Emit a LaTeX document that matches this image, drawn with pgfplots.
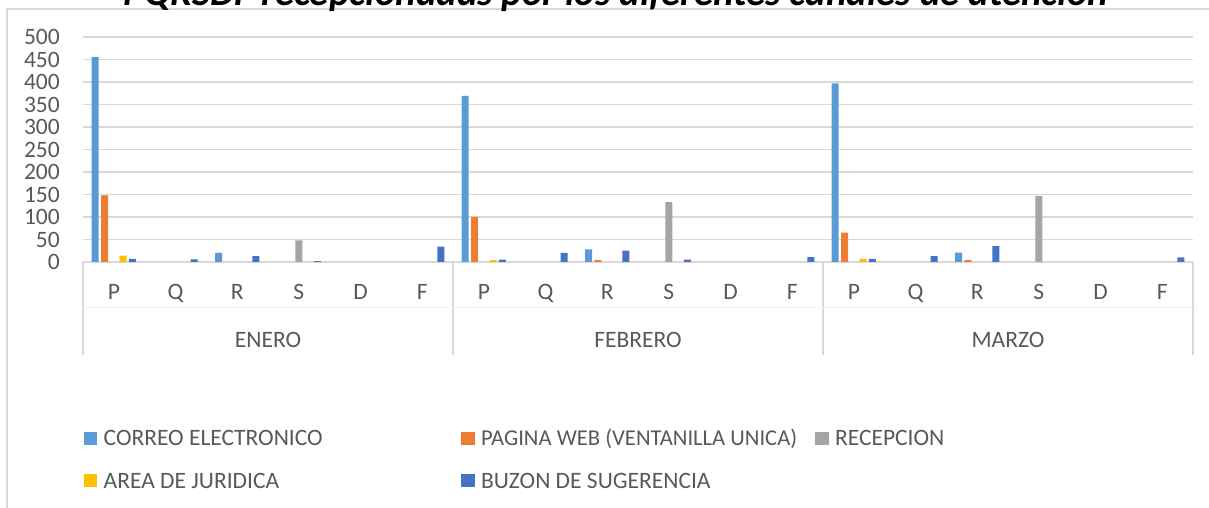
\documentclass[border=0pt]{standalone}
\usepackage{pgfplots}
\pgfplotsset{compat=1.18}
\usepackage{pgfplotstable}
\usepackage{fontspec}
\setmainfont{Carlito}
\definecolor{cCorreo}{HTML}{5B9BD5}
\definecolor{cPagina}{HTML}{ED7D31}
\definecolor{cRecep}{HTML}{A5A5A5}
\definecolor{cJuri}{HTML}{FFC000}
\definecolor{cBuzon}{HTML}{4472C4}
\definecolor{txt}{HTML}{595959}
\definecolor{gridc}{HTML}{D9D9D9}

\pgfplotstableread{
x c p r a b
0 455 148 0 14 7
1 0 0 0 0 6
2 20 0 0 0 13
3 0 0 48 0 2
4 0 0 0 0 0
5 0 0 0 0 34
6 369 100 0 4 5
7 0 0 0 0 20
8 28 4 0 0 25
9 0 0 133 0 5
10 0 0 0 0 0
11 0 0 0 0 11
12 397 65 0 7 7
13 0 0 0 0 13
14 21 4 0 0 35
15 0 0 147 0 0
16 0 0 0 0 0
17 0 0 0 0 10
}\data

\pgfplotsset{legsq/.style={legend image code/.code={\fill[##1,draw=none] (0pt,-6.7pt) rectangle (13.4pt,6.7pt);}}}

\begin{document}
\begin{tikzpicture}[x=1pt,y=1pt]
\useasboundingbox (0,0) rectangle (1209,508);
\fill[white] (0,0) rectangle (1209,508);
\draw[gridc, line width=1.2pt] (7,0) -- (7,499) -- (1209,499);
\node[font=\fontsize{38.9}{44}\selectfont\bfseries\itshape, text=black, anchor=base, inner sep=0pt] at (616,502.7) {PQRSDF recepcionadas por los diferentes canales de atención};
\begin{axis}[
  at={(83pt,246pt)}, anchor=south west,
  width=1110pt, height=225pt, scale only axis,
  xmin=-0.5, xmax=17.5, ymin=0, ymax=500,
  ytick={0,50,...,500},
  xtick={0,...,17},
  xticklabels={P,Q,R,S,D,F,P,Q,R,S,D,F,P,Q,R,S,D,F},
  major tick length=0pt,
  axis line style={draw=none},
  ymajorgrids, grid style={gridc, line width=1.2pt},
  ybar=2.3pt, bar width=7pt,
  clip=false,
  unbounded coords=discard,
  ticklabel style={font=\fontsize{23.5}{28}\selectfont, text=txt},
  /pgf/number format/assume math mode=true,
  yticklabel style={anchor=east, inner sep=0pt, xshift=-23pt},
  xticklabel style={anchor=center, inner sep=0pt, text height=15pt, text depth=0pt, yshift=-30.5pt},
  legend columns=3,
  legend cell align=left,
  legend style={draw=none, fill=none, inner sep=0pt, outer sep=0pt,
    at={(0.0009,-0.7498)}, anchor=north west,
    font=\fontsize{23.5}{28}\selectfont, text=txt,
    row sep=27.5pt,
    nodes={inner sep=0pt, text height=15pt, text depth=0pt},
    /tikz/every odd column/.append style={column sep=6.3pt}},
]
\addplot[fill=cCorreo, draw=none, legsq, y filter/.expression={y==0 ? nan : y}] table[x=x,y=c] {\data};
\addplot[fill=cPagina, draw=none, legsq, y filter/.expression={y==0 ? nan : y}] table[x=x,y=p] {\data};
\addplot[fill=cRecep, draw=none, legsq, y filter/.expression={y==0 ? nan : y}] table[x=x,y=r] {\data};
\addplot[fill=cJuri, draw=none, legsq, y filter/.expression={y==0 ? nan : y}] table[x=x,y=a] {\data};
\addplot[fill=cBuzon, draw=none, legsq, y filter/.expression={y==0 ? nan : y}] table[x=x,y=b] {\data};
\legend{\makebox[357.7pt][l]{CORREO ELECTRONICO}, \makebox[334.3pt][l]{\fontsize{22.6}{27}\selectfont PAGINA WEB (VENTANILLA UNICA)}, RECEPCION, AREA DE JURIDICA, BUZON DE SUGERENCIA}
\draw[gridc, line width=1.2pt] (axis cs:-0.5,0) -- ([yshift=-93pt]axis cs:-0.5,0);
\draw[gridc, line width=1.2pt] (axis cs:5.5,0) -- ([yshift=-93pt]axis cs:5.5,0);
\draw[gridc, line width=1.2pt] (axis cs:11.5,0) -- ([yshift=-93pt]axis cs:11.5,0);
\draw[gridc, line width=1.2pt] (axis cs:17.5,0) -- ([yshift=-93pt]axis cs:17.5,0);
\draw[gridc!40, line width=1pt] ([yshift=-46pt]axis cs:-0.5,0) -- ([yshift=-46pt]axis cs:17.5,0);
\node[font=\fontsize{23.5}{28}\selectfont, text=txt, anchor=base, inner sep=0pt] at ([yshift=-85pt]axis cs:2.5,0) {ENERO};
\node[font=\fontsize{23.5}{28}\selectfont, text=txt, anchor=base, inner sep=0pt] at ([yshift=-85pt]axis cs:8.5,0) {FEBRERO};
\node[font=\fontsize{23.5}{28}\selectfont, text=txt, anchor=base, inner sep=0pt] at ([yshift=-85pt]axis cs:14.5,0) {MARZO};
\end{axis}
\end{tikzpicture}
\end{document}
